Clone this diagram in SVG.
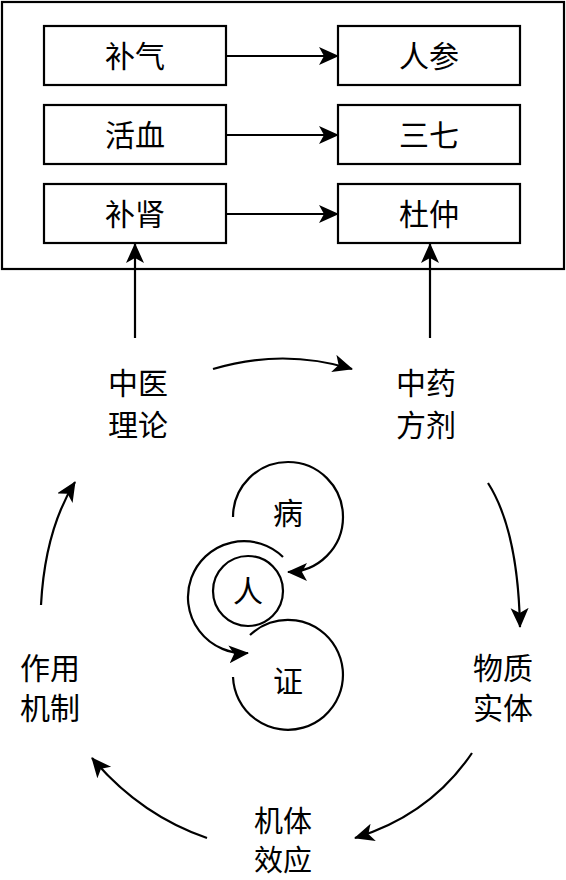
<svg xmlns="http://www.w3.org/2000/svg" width="566" height="880" viewBox="0 0 566 880">
<style>
.t{font-family:"Noto Sans CJK SC","Liberation Serif",serif;font-size:30px;text-anchor:middle;fill:#000}
.s{font-size:29px}
.b{fill:#fff;stroke:#000;stroke-width:2.2}
.l{fill:none;stroke:#000;stroke-width:2.2}
</style>
<defs>
<marker id="ah" markerUnits="userSpaceOnUse" markerWidth="22" markerHeight="20" refX="19" refY="9" orient="auto">
<path d="M0,0 L20,9 L0,18 L5,9 z" fill="#000"/>
</marker>
</defs>
<rect width="566" height="880" fill="#fff"/>
<g id="frame"><rect x="2" y="2" width="562" height="267" class="b"/></g>
<g id="n-buqi"><rect x="44" y="26" width="182" height="59" class="b"/><text x="135" y="67" class="t">补气</text></g>
<g id="n-renshen"><rect x="338" y="26" width="182" height="59" class="b"/><text x="429" y="67" class="t">人参</text></g>
<g id="n-huoxue"><rect x="44" y="105" width="182" height="59" class="b"/><text x="135" y="146" class="t">活血</text></g>
<g id="n-sanqi"><rect x="338" y="105" width="182" height="59" class="b"/><text x="429" y="146" class="t">三七</text></g>
<g id="n-bushen"><rect x="44" y="184" width="182" height="59" class="b"/><text x="135" y="225" class="t">补肾</text></g>
<g id="n-duzhong"><rect x="338" y="184" width="182" height="59" class="b"/><text x="429" y="225" class="t">杜仲</text></g>
<g id="n-zhongyi"><text x="138" y="394" class="t">中医</text><text x="138" y="436" class="t">理论</text></g>
<g id="n-zhongyao"><text x="426" y="394" class="t">中药</text><text x="426" y="436" class="t">方剂</text></g>
<g id="n-wuzhi"><text x="503" y="679" class="t">物质</text><text x="503" y="719" class="t">实体</text></g>
<g id="n-jiti"><text x="283" y="832" class="t s">机体</text><text x="283" y="871" class="t s">效应</text></g>
<g id="n-zuoyong"><text x="50" y="679" class="t">作用</text><text x="50" y="719" class="t">机制</text></g>
<g id="n-bing"><text x="288" y="524" class="t">病</text></g>
<g id="n-ren"><circle cx="248" cy="591" r="35" class="l"/><text x="248" y="602" class="t">人</text></g>
<g id="n-zheng"><path d="M250,635 A55,55 0 1 1 233,677" class="l"/><text x="288" y="692" class="t">证</text></g>
<g id="connectors">
<line x1="226" y1="56" x2="338" y2="56" class="l" marker-end="url(#ah)"/>
<line x1="226" y1="135" x2="338" y2="135" class="l" marker-end="url(#ah)"/>
<line x1="226" y1="214" x2="338" y2="214" class="l" marker-end="url(#ah)"/>
<line x1="135" y1="338" x2="135" y2="244" class="l" marker-end="url(#ah)"/>
<line x1="430" y1="338" x2="430" y2="244" class="l" marker-end="url(#ah)"/>
<path d="M213,369 Q283,348 352,369" class="l" marker-end="url(#ah)"/>
<path d="M488,483 Q518,530 520,627" class="l" marker-end="url(#ah)"/>
<path d="M472,753 Q430,815 355,838" class="l" marker-end="url(#ah)"/>
<path d="M207,838 Q140,815 92,758" class="l" marker-end="url(#ah)"/>
<path d="M41,605 Q45,530 75,482" class="l" marker-end="url(#ah)"/>
<path d="M233,517 A55,55 0 1 1 288,572" class="l" marker-end="url(#ah)"/>
<path d="M283,557 A56,56 0 1 0 248,653" class="l" marker-end="url(#ah)"/>
</g>
</svg>
